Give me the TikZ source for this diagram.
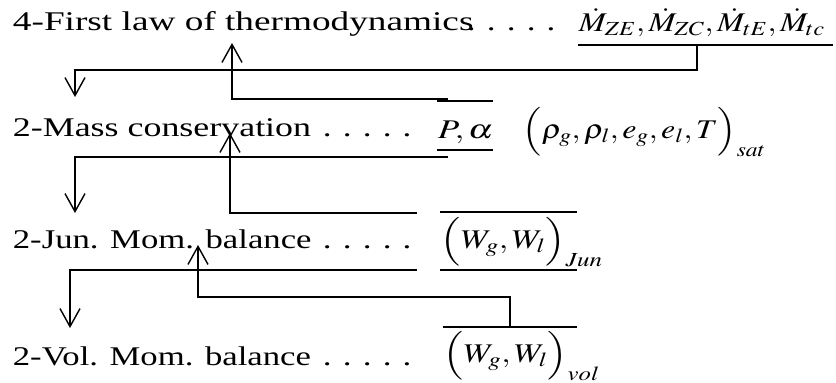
\documentclass[tikz,border=0pt]{standalone}
\usepackage{mathptmx}
\usepackage{fontspec}
\setmainfont{Liberation Serif}
\usetikzlibrary{arrows.meta}

\newcommand\leaderdots{.\hskip8.6pt.\hskip8.6pt.\hskip8.6pt.\hskip8.6pt.}

\begin{document}
\begin{tikzpicture}[x=1pt,y=-1pt,line width=1.4pt,
  >={Straight Barb[length=18pt,width=20pt]},
  eq/.style={anchor=base west,inner sep=0pt,xscale=#1,font=\fontsize{27}{32}\selectfont},
  eq/.default=1.3]
  \useasboundingbox (0,0) rectangle (836,383);
  % equations on the left
  \node[eq=1.38] (law) at (12,30) {4-First law of thermodynamics};
  \node[eq=1.33] (mass) at (12,136) {2-Mass conservation};
  \node[eq=1.285] (jun) at (12,248) {2-Jun. Mom. balance};
  \node[eq=1.285] (vol) at (12,365) {2-Vol. Mom. balance};
  \node[eq] (dots1) at (466,30) {\leaderdots};
  \node[eq] (dots2) at (322,136) {\leaderdots};
  \node[eq] (dots3) at (322,248) {\leaderdots};
  \node[eq] (dots4) at (322,365) {\leaderdots};
  % unknowns on the right
  \node[eq=1.19] (mdot) at (578,31) {$\dot M_{ZE},\dot M_{ZC},\dot M_{tE},\dot M_{tc}$};
  \node[eq] (palpha) at (437,138) {$P,\alpha$};
  \node[eq=1.18] (sat) at (522,138) {$\Bigl(\rho_g,\rho_l,e_g,e_l,T\Bigr)_{sat}$};
  \node[eq=1.25] (wjun) at (440,248) {$\Bigl(W_g,W_l\Bigr)_{Jun}$};
  \node[eq=1.24] (wvol) at (443,362) {$\Bigl(W_g,W_l\Bigr)_{vol}$};
  % bars
  \draw (578,45) -- (833,45);
  \draw (437,101) -- (493,101);
  \draw (437,150) -- (493,150);
  \draw (440,212) -- (577,212);
  \draw (440,270) -- (577,270);
  \draw (443,327) -- (577,327);
  \coordinate (mdotout) at (697,45);
  \coordinate (palphaup) at (448,99);
  \coordinate (palphadown) at (448,157);
  \coordinate (wjunup) at (417,213);
  \coordinate (wjundown) at (417,270);
  \coordinate (wvolup) at (510,327);
  \coordinate (tomass) at (75,97);
  \coordinate (tolaw) at (232,43);
  \coordinate (tojun) at (75,213);
  \coordinate (tomass2) at (230,133);
  \coordinate (tovol) at (70,328);
  \coordinate (tojun2) at (198,245);
  % arrows
  \draw[->] (mdotout) |- (tomass |- 0,70) -- (tomass);
  \draw[->] (palphaup) -| (tolaw);
  \draw[->] (palphadown) -| (tojun);
  \draw[->] (wjunup) -| (tomass2);
  \draw[->] (wjundown) -| (tovol);
  \draw[->] (wvolup) |- (tojun2 |- 0,297) -- (tojun2);
\end{tikzpicture}
\end{document}
